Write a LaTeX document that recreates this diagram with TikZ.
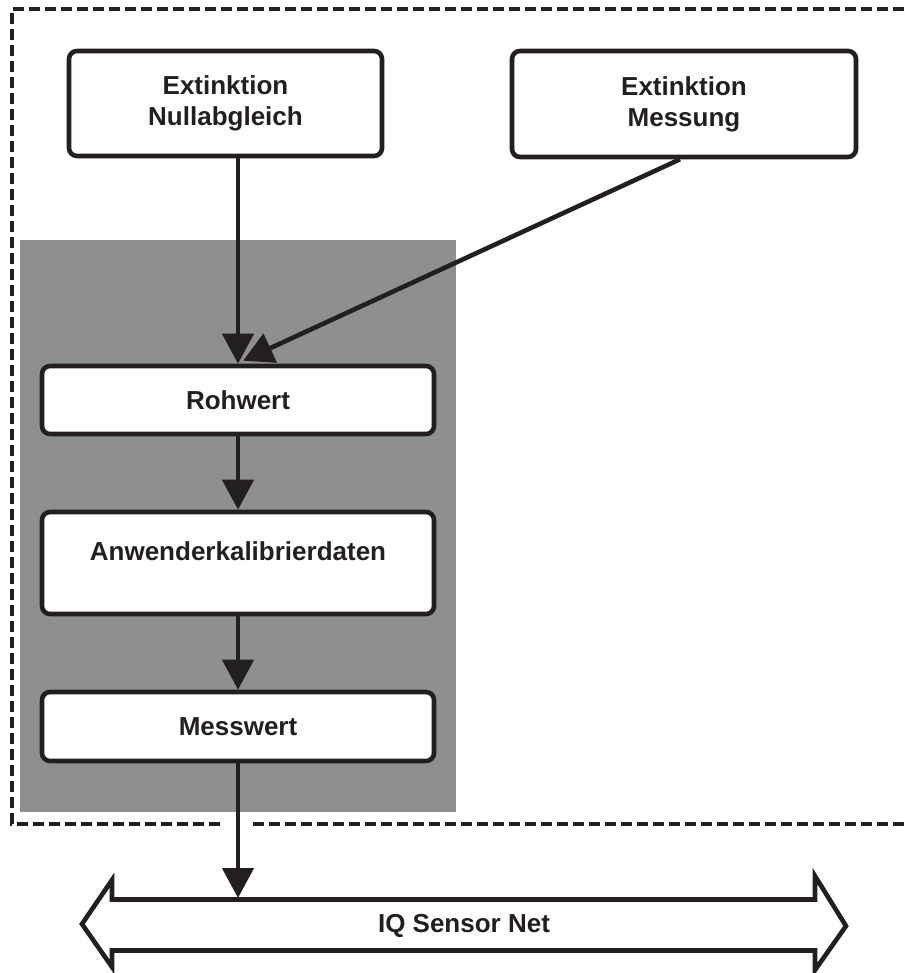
\documentclass[tikz,border=0pt]{standalone}
\usepackage{fontspec}
\setmainfont{Liberation Sans}
\usetikzlibrary{arrows.meta,calc}
\definecolor{ink}{RGB}{35,31,32}
\definecolor{panel}{RGB}{142,143,145}
\newcommand{\labfont}{\fontsize{26}{31}\selectfont\bfseries}
\tikzset{
  procbox/.style={draw=ink, line width=4.6pt, rounded corners=8pt, fill=white,
    inner sep=0pt, align=center, font=\labfont, text=ink},
  flow/.style={draw=ink, line width=4.6pt, -{Triangle[length=30pt,width=31pt]}},
  frame/.style={draw=ink, line width=4.6pt, dash pattern=on 11pt off 5pt},
}
\begin{document}
\begin{tikzpicture}[x=1pt,y=-1pt]
\useasboundingbox (0,0) rectangle (904,973);
% grey panel
\fill[panel] (20,240) rectangle (456,812);
% dashed frame
\draw[frame] (904,9) -- (12,9) -- (12,824) -- (222,824);
\draw[frame] (253,824) -- (904,824);
% boxes
\node[procbox, minimum width=313pt, minimum height=105pt] (nul) at (225.5,103.5) {Extinktion\\Nullabgleich};
\node[procbox, minimum width=344pt, minimum height=106pt] (mes) at (684,104) {Extinktion\\Messung};
\node[procbox, minimum width=392pt, minimum height=68pt] (roh) at (238,400) {Rohwert};
\node[procbox, minimum width=392pt, minimum height=102pt,
  label={[anchor=center,yshift=-42pt,font=\labfont,text=ink]north:Anwenderkalibrierdaten}] (anw) at (238,563) {};
\node[procbox, minimum width=392pt, minimum height=69pt] (mw) at (238,726.5) {Messwert};
% bus double arrow
\draw[ink, line width=4.6pt, line join=miter, fill=white]
  (82,924) -- (112,880) -- (112,899.5) -- (815,899.5) -- (815,876) -- (846,926)
  -- (815,970) -- (815,950.5) -- (112,950.5) -- (112,967) -- cycle;
\node[font=\labfont, text=ink] (bus) at (464,926) {IQ Sensor Net};
\coordinate (busin) at (238,898);
% connectors
\draw[flow] (roh.north |- nul.south) -- (roh.north);
\draw[flow] ([xshift=-4pt]mes.south) -- ([xshift=5pt,yshift=3pt]roh.north);
\draw[flow] (roh.south) -- (anw.north);
\draw[flow] (anw.south) -- (mw.north);
\draw[flow] (mw.south) -- (busin);
\end{tikzpicture}
\end{document}
